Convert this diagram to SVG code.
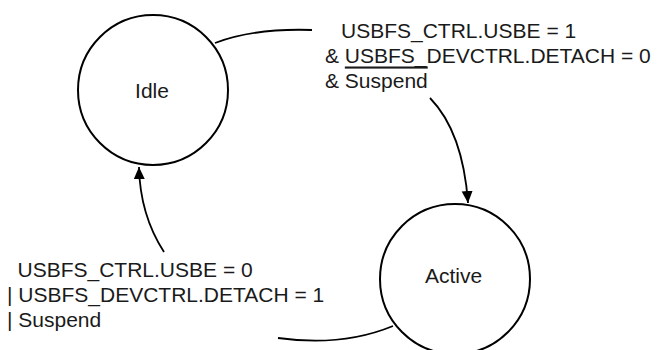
<svg xmlns="http://www.w3.org/2000/svg" width="661" height="350" viewBox="0 0 661 350">
<style>
.node{fill:#fff;stroke:#000;stroke-width:2}
.edge{fill:none;stroke:#000;stroke-width:1.8}
.t{font-family:"Liberation Sans",Arial,sans-serif;font-size:21px;fill:#1a1a1a}
.c{text-anchor:middle}
</style>
<defs>
<marker id="arr" markerUnits="userSpaceOnUse" markerWidth="13" markerHeight="12" refX="12" refY="5.5" orient="auto">
<path d="M0,0 L12,5.5 L0,11 Z" fill="#000"/>
</marker>
</defs>
<rect width="661" height="350" fill="#fff"/>
<g id="connectors">
<path class="edge" d="M215,43 Q255,28 312,30"/>
<path class="edge" d="M430,98 Q463,132 468,203" marker-end="url(#arr)"/>
<path class="edge" d="M393,326 Q342,347 278,338"/>
<path class="edge" d="M164,252 Q140,215 139,167" marker-end="url(#arr)"/>
</g>
<g id="node-idle">
<circle class="node" cx="153" cy="90" r="75"/>
<text class="t c" x="152" y="97.5">Idle</text>
</g>
<g id="node-active">
<circle class="node" cx="455" cy="279" r="75"/>
<text class="t c" x="453.5" y="282.5">Active</text>
</g>
<g id="label-idle-active">
<text class="t" x="341" y="37.5">USBFS_CTRL.USBE = 1</text>
<text class="t" x="325" y="62.5">&amp; USBFS_DEVCTRL.DETACH = 0</text>
<text class="t" x="325" y="87.5">&amp; <tspan text-decoration="overline">Suspend</tspan></text>
</g>
<g id="label-active-idle">
<text class="t" x="17.5" y="276.5">USBFS_CTRL.USBE = 0</text>
<text class="t" x="7" y="302">| USBFS_DEVCTRL.DETACH = 1</text>
<text class="t" x="7" y="326.5">| Suspend</text>
</g>
</svg>
